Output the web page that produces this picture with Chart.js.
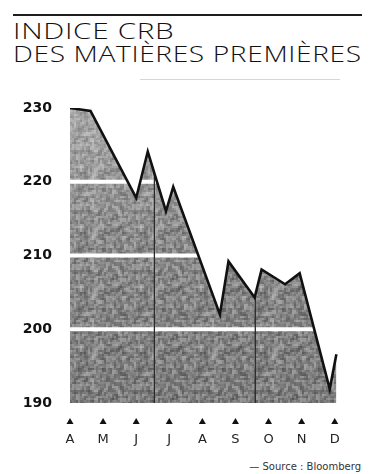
<!DOCTYPE html>
<html lang="fr">
<head>
<meta charset="utf-8">
<title>Indice CRB des matières premières</title>
<script src="https://cdn.jsdelivr.net/npm/chart.js@4/dist/chart.umd.min.js"></script>
<style>
  html, body { margin: 0; padding: 0; background: #fff; }
  body { width: 369px; height: 474px; position: relative; overflow: hidden; }
  #rule { position: absolute; left: 13px; top: 14px; width: 349px; height: 0; border-top: 2px solid #1e1e1e; }
  .title { position: absolute; left: 13px; margin: 0; white-space: nowrap; transform-origin: 0 0;
           font-family: "Open Sans", "DejaVu Sans", sans-serif; font-weight: 300; font-size: 22px;
           line-height: 22px; color: #111; letter-spacing: 0.5px; }
  #t1 { top: 19px; }
  #t2 { top: 42px; }
  #sub { position: absolute; left: 140px; top: 79px; width: 200px; border-top: 1px solid #d6d6d6; }
  #src { position: absolute; right: 8px; top: 461px; font-family: "DejaVu Sans", sans-serif;
         font-size: 10px; color: #333; }
  #cv { position: absolute; left: 0; top: 0; }
</style>
</head>
<body>
<div id="rule"></div>
<h1 class="title" id="t1">INDICE CRB</h1>
<h1 class="title" id="t2">DES MATIÈRES PREMIÈRES</h1>
<div id="sub"></div>
<div id="src">— Source : Bloomberg</div>
<canvas id="cv" width="369" height="474"></canvas>
<script>
// Month tick labels (positions 0..8 on the x axis, mid-month)
const months = ['A', 'M', 'J', 'J', 'A', 'S', 'O', 'N', 'D'];
const monthPositions = [0, 1, 2, 3, 4, 5, 6, 7, 8];
// Turning points of the index: time in months from mid-April, and index level
const times  = [0, 0.62, 2.0, 2.35, 2.9, 3.12, 4.53, 4.79, 5.58, 5.79, 6.5, 6.94, 7.85, 8.05];
const values = [230, 229.6, 217.8, 224.1, 216.0, 219.3, 202.0, 209.2, 204.3, 208.1, 206.1, 207.6, 191.9, 196.6];
// Value axis ticks
const yTicks = [190, 200, 210, 220, 230];
// Quarter separators (start of July, start of October)
const quarterLines = [2.55, 5.6];

// Fit each title line to its printed width
function fit(id, w) {
  const el = document.getElementById(id);
  el.style.transform = 'scaleX(' + (w / el.offsetWidth) + ')';
}
fit('t1', 162);
fit('t2', 349);

// Coarse grey screen for the area under the curve
function screenPattern() {
  const N = 60, B = 2, n = N / B;
  const raw = [];
  for (let i = 0; i < n * n; i++) {
    const h = Math.sin(i * 12.9898 + 78.233) * 43758.5453;
    raw.push(h - Math.floor(h));
  }
  // soften the grain a little by averaging neighbouring cells
  const at = (x, y) => raw[((y + n) % n) * n + ((x + n) % n)];
  const c = document.createElement('canvas');
  c.width = N; c.height = N;
  const g = c.getContext('2d');
  for (let y = 0; y < n; y++) {
    for (let x = 0; x < n; x++) {
      const s = 0.5 * at(x, y) + 0.125 * (at(x - 1, y) + at(x + 1, y) + at(x, y - 1) + at(x, y + 1));
      const v = Math.round(70 + s * 120);
      g.fillStyle = 'rgb(' + v + ',' + v + ',' + v + ')';
      g.fillRect(x * B, y * B, B, B);
    }
  }
  return g.createPattern(c, 'repeat');
}

const points = times.map((t, i) => ({ x: t, y: values[i] }));

// White rules and quarter lines drawn only over the shaded area
const overlay = {
  id: 'overlay',
  afterDatasetDraw(chart, args) {
    if (args.index !== 0) return;
    const ctx = chart.ctx, a = chart.chartArea;
    const xs = chart.scales.x, ys = chart.scales.y;
    ctx.save();
    ctx.globalCompositeOperation = 'source-atop';
    // lighter screen toward the top
    const gr = ctx.createLinearGradient(0, a.top, 0, a.bottom);
    gr.addColorStop(0, 'rgba(255,255,255,0.30)');
    gr.addColorStop(0.45, 'rgba(255,255,255,0.05)');
    gr.addColorStop(1, 'rgba(0,0,0,0.05)');
    ctx.fillStyle = gr;
    ctx.fillRect(a.left, a.top - 5, a.right - a.left, a.bottom - a.top + 5);
    ctx.strokeStyle = '#ffffff';
    ctx.lineWidth = 4;
    yTicks.slice(1, -1).forEach(v => {
      const y = ys.getPixelForValue(v);
      ctx.beginPath(); ctx.moveTo(a.left, y); ctx.lineTo(a.right, y); ctx.stroke();
    });
    ctx.strokeStyle = '#2a2a2a';
    ctx.lineWidth = 1.3;
    quarterLines.forEach(v => {
      const x = xs.getPixelForValue(v);
      ctx.beginPath(); ctx.moveTo(x, a.top); ctx.lineTo(x, a.bottom); ctx.stroke();
    });
    ctx.restore();
  },
  afterDraw(chart) {
    // small triangles marking each month
    const ctx = chart.ctx, xs = chart.scales.x, a = chart.chartArea;
    ctx.save();
    ctx.fillStyle = '#111';
    monthPositions.forEach(v => {
      const x = xs.getPixelForValue(v);
      const y = a.bottom + 21;
      ctx.beginPath();
      ctx.moveTo(x - 3.5, y); ctx.lineTo(x + 3.5, y); ctx.lineTo(x, y - 6);
      ctx.closePath(); ctx.fill();
    });
    ctx.restore();
  }
};

new Chart(document.getElementById('cv'), {
  type: 'line',
  data: {
    datasets: [
      { data: points, borderWidth: 0, pointRadius: 0, tension: 0, fill: 'start',
        backgroundColor: screenPattern(), order: 2 },
      { data: points, borderColor: '#111', borderWidth: 2.6, pointRadius: 0, tension: 0,
        fill: false, borderJoinStyle: 'miter', order: 1 }
    ]
  },
  options: {
    responsive: false,
    animation: false,
    layout: { padding: { top: 108, right: 22, left: 0, bottom: 0 } },
    plugins: { legend: { display: false }, tooltip: { enabled: false }, title: { display: false } },
    scales: {
      x: {
        type: 'linear', min: 0, max: 8.1,
        afterBuildTicks: s => { s.ticks = monthPositions.map(v => ({ value: v })); },
        afterFit: s => { s.height = 71; },
        grid: { display: false, drawTicks: false },
        border: { display: false },
        ticks: {
          padding: 29, maxRotation: 0, autoSkip: false, color: '#222',
          font: { family: 'DejaVu Sans', size: 13 },
          callback: (v) => months[monthPositions.indexOf(v)]
        }
      },
      y: {
        min: 190, max: 230,
        afterBuildTicks: s => { s.ticks = yTicks.map(v => ({ value: v })); },
        afterFit: s => { s.width = 70; },
        grid: { display: false, drawTicks: false },
        border: { display: false },
        ticks: { padding: 18, color: '#111', font: { family: 'DejaVu Sans', size: 14, weight: 'bold' } }
      }
    }
  },
  plugins: [overlay]
});
</script>
</body>
</html>
